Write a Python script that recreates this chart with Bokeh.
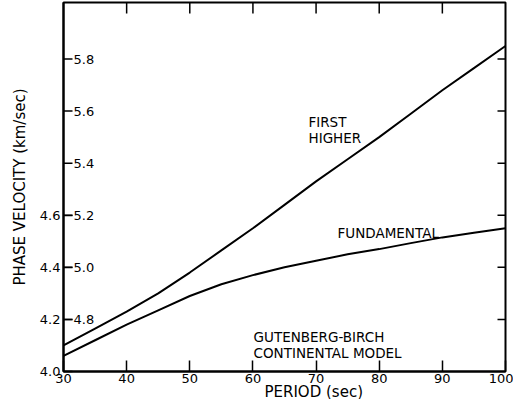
import math
from bokeh.plotting import figure
from bokeh.models import Range1d, FixedTicker, Label, Title
from bokeh.core.properties import value
from bokeh.embed import file_html
from bokeh.resources import INLINE

# ---- data ----
period = [30, 35, 40, 45, 50, 55, 60, 65, 70, 75, 80, 85, 90, 95, 100]
fundamental = [4.06, 4.12, 4.18, 4.235, 4.29, 4.335, 4.37, 4.40, 4.425, 4.45,
               4.47, 4.493, 4.515, 4.533, 4.55]
first_higher = [4.70, 4.765, 4.83, 4.90, 4.98, 5.065, 5.15, 5.24, 5.33, 5.415,
                5.50, 5.59, 5.68, 5.765, 5.85]

x_ticks = [30, 40, 50, 60, 70, 80, 90, 100]
x_tick_labels = ["30", "40", "50", "60", "70", "80", "90", "100"]
outer_ticks = [4.0, 4.2, 4.4, 4.6]
outer_tick_labels = ["4.0", "4.2", "4.4", "4.6"]
inner_ticks = [4.8, 5.0, 5.2, 5.4, 5.6, 5.8]
inner_tick_labels = ["4.8", "5.0", "5.2", "5.4", "5.6", "5.8"]

FONT = "DejaVu Sans"
X0, X1 = 30, 100
Y0, Y1 = 4.0, 5.417
OFFSET = 0.6  # inner (first higher) scale is shifted by this amount

p = figure(width=513, height=399, output_backend="svg", toolbar_location=None,
           x_range=Range1d(X0, X1), y_range=Range1d(Y0, Y1),
           min_border_left=63, min_border_right=8, min_border_top=2,
           min_border_bottom=0)
p.extra_y_ranges = {"higher": Range1d(Y0 + OFFSET, Y1 + OFFSET)}
p.grid.visible = False
p.outline_line_color = "black"
p.outline_line_width = 2
p.outline_line_alpha = 1.0
p.background_fill_color = "white"
p.border_fill_color = "white"

# bottom axis
xa = p.xaxis[0]
xa.ticker = FixedTicker(ticks=x_ticks)
xa.major_label_overrides = {t: l for t, l in zip(x_ticks, x_tick_labels)}
xa.major_tick_in = 11
xa.major_tick_out = 0
xa.minor_tick_in = 0
xa.minor_tick_out = 0
xa.major_tick_line_width = 1.5
xa.major_tick_line_color = "black"
xa.axis_line_width = 2
xa.major_label_standoff = 2
xa.major_label_text_font = FONT
xa.major_label_text_font_size = "13px"
xa.major_label_text_color = "black"

# left axis (fundamental scale)
ya = p.yaxis[0]
ya.ticker = FixedTicker(ticks=outer_ticks)
ya.major_label_overrides = {t: l for t, l in zip(outer_ticks, outer_tick_labels)}
ya.major_tick_in = 9
ya.major_tick_out = 0
ya.minor_tick_in = 0
ya.minor_tick_out = 0
ya.major_tick_line_width = 1.5
ya.major_tick_line_color = "black"
ya.axis_line_width = 2
ya.major_label_standoff = 3
ya.major_label_text_font = FONT
ya.major_label_text_font_size = "13px"
ya.major_label_text_color = "black"
ya.axis_label = "PHASE VELOCITY (km/sec)"
ya.axis_label_text_font = FONT
ya.axis_label_text_font_size = "15px"
ya.axis_label_text_font_style = "normal"
ya.axis_label_text_color = "black"
ya.axis_label_standoff = 8

# x axis title, placed off-centre as in the reference
p.add_layout(Title(text="PERIOD (sec)", align="left", offset=201, standoff=-6,
                   vertical_align="top",
                   text_font=FONT, text_font_size="15px", text_font_style="normal",
                   text_color="black"), "below")

# inner scale ticks and labels (first higher mode), drawn inside the frame
n_in = len(inner_ticks)
p.ray(x=[X0] * n_in, y=inner_ticks, length=9, length_units="screen", angle=0,
      y_range_name="higher", line_color="black", line_width=1.5)
p.text(x=[X0] * n_in, y=inner_ticks, text=inner_tick_labels,
       y_range_name="higher", x_offset=10, text_align="left", text_baseline="middle",
       text_font=value(FONT), text_font_size="13px", text_color="black")

# inward ticks on the right and top edges
p.ray(x=[X1] * n_in, y=inner_ticks, length=8, length_units="screen", angle=math.pi,
      y_range_name="higher", line_color="black", line_width=1.5)
inner_x = x_ticks[1:-1]
p.ray(x=inner_x, y=[Y1] * len(inner_x), length=11, length_units="screen",
      angle=-math.pi / 2, line_color="black", line_width=1.5)

# curves
p.line(period, fundamental, line_width=2, line_color="black")
p.line(period, first_higher, line_width=2, line_color="black", y_range_name="higher")

# annotations
lab_kw = dict(text_font=FONT, text_font_size="13.5px", text_color="black",
              text_baseline="top", text_align="left", text_line_height=1.0)
p.add_layout(Label(x=68.8, y=4.987, text="FIRST\nHIGHER", **lab_kw))
p.add_layout(Label(x=73.4, y=4.564, text="FUNDAMENTAL", **lab_kw))
p.add_layout(Label(x=60.1, y=4.164, text="GUTENBERG-BIRCH\nCONTINENTAL MODEL", **lab_kw))

open("out.html", "w").write(file_html(p, INLINE))
